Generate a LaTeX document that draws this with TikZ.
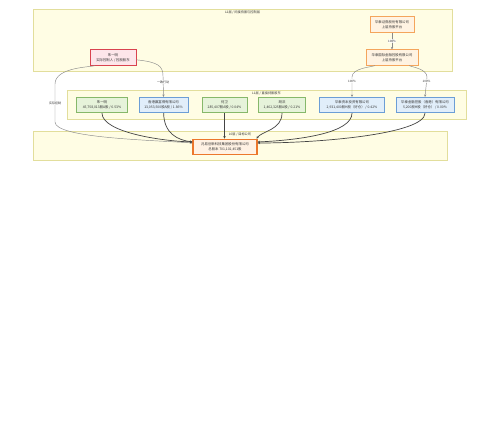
\documentclass[tikz,border=0pt]{standalone}
\usepackage{fontspec}
\setmainfont{Noto Sans CJK SC}
\usetikzlibrary{arrows.meta,positioning}
\definecolor{Ink}{HTML}{333333}
\definecolor{ZoneFill}{HTML}{FFFDE4}
\definecolor{ZoneLine}{HTML}{E2DE9C}
\definecolor{PlatFill}{HTML}{FFF3E2}
\definecolor{PlatLine}{HTML}{F4A55C}
\definecolor{CtrlFill}{HTML}{FDE6EA}
\definecolor{CtrlLine}{HTML}{D9434F}
\definecolor{PersFill}{HTML}{E6F3DA}
\definecolor{PersLine}{HTML}{86B86A}
\definecolor{OrgFill}{HTML}{E1EEFA}
\definecolor{OrgLine}{HTML}{6C9ED6}
\definecolor{TgtFill}{HTML}{FFF2E4}
\definecolor{TgtLine}{HTML}{EC772C}
\definecolor{LinkLight}{HTML}{8A8A8A}
\definecolor{LinkDark}{HTML}{444444}

\begin{document}
\begin{tikzpicture}[x=1pt, y=-1pt,
    every node/.style={font=\fontsize{3.4}{5}\selectfont, text=Ink},
    zone/.style={draw=ZoneLine, fill=ZoneFill, line width=0.6pt},
    zonelbl/.style={font=\fontsize{3.2}{4}\selectfont, inner sep=0.5pt},
    box/.style={rectangle, align=center, minimum height=15.5pt, inner sep=0.8pt, line width=0.7pt},
    platform/.style={box, draw=PlatLine, fill=PlatFill},
    ctrlbox/.style={box, draw=CtrlLine, fill=CtrlFill, line width=0.9pt},
    person/.style={box, draw=PersLine, fill=PersFill},
    org/.style={box, draw=OrgLine, fill=OrgFill},
    target/.style={box, draw=TgtLine, fill=TgtFill, line width=1.1pt},
    link/.style={-{Stealth[length=2.4pt,width=2.2pt]}, draw=LinkLight, line width=0.45pt},
    hold/.style={-{Stealth[length=2.6pt,width=2.4pt]}, draw=LinkDark, line width=0.7pt},
    elbl/.style={fill=white, fill opacity=0.75, text opacity=1, inner sep=0.6pt, font=\fontsize{3}{4}\selectfont}
  ]
    \useasboundingbox (0,0) rectangle (500,438);
    \fill[white] (0,0) rectangle (500,438);

    \draw[zone] (33,9) rectangle (452,71);
    \draw[zone] (67,90) rectangle (466,119);
    \draw[zone] (33,131) rectangle (447,160);
    \node[zonelbl] (l2lbl) at (242.5,12.5) {L2层 / 间接持股与控制层};
    \node[zonelbl] (l1lbl) at (266.5,93.5) {L1层 / 直接持股股东};
    \node[zonelbl] (l0lbl) at (240,134) {L0层 / 目标公司};

    \node[platform, minimum width=44pt] (htsec) at (392,24.5) {华泰证券股份有限公司\\上层持股平台};
    \node[platform, minimum width=52pt] (htintl) at (392,57.5) {华泰国际金融控股有限公司\\上层持股平台};
    \node[ctrlbox, minimum width=46pt] (ctrl) at (113,57.5) {朱一明\\实际控制人 / 控股股东};

    \node[person, minimum width=51pt] (zym) at (102,105) {朱一明\\45,758,013股A股 / 6.53\%};
    \node[org, minimum width=49pt] (hkyf) at (163.5,105) {香港赢富得有限公司\\13,053,500股A股 / 1.86\%};
    \node[person, minimum width=45pt] (hewei) at (224.5,105) {何卫\\285,407股A股 / 0.04\%};
    \node[person, minimum width=47pt] (huhong) at (282,105) {胡洪\\1,462,325股A股 / 0.21\%};
    \node[org, minimum width=65pt] (htcap) at (352,105) {华泰资本投资有限公司\\2,931,400股H股（好仓） / 0.42\%};
    \node[org, minimum width=58pt] (htfin) at (425,105) {华泰金融控股（香港）有限公司\\5,200股H股（好仓） / 0.00\%};

    \node[target, minimum width=64pt] (tgt) at (225,147) {兆易创新科技集团股份有限公司\\总股本 701,102,451股};

    \draw[link] (htsec) -- node[elbl] {100\%} (htintl);
    \draw[link] (htintl) .. controls (372,67) and (352,68) .. (352,77) -- node[elbl, pos=0.2] {100\%} (htcap.north);
    \draw[link] (htintl) .. controls (412,67) and (427,69) .. (427,77) -- node[elbl, pos=0.2] {100\%} (htfin.north);
    \draw[link] (ctrl) .. controls (158,62) and (163,66) .. (163,76) -- node[elbl, pos=0.3] {一致行动} (hkyf.north);
    \draw[link] (ctrl) .. controls (92,67) and (55,67) .. (55,84) -- node[elbl] {实际控制} (55,122)
      .. controls (55,138) and (150,140) .. ([yshift=4pt]tgt.west);

    \draw[hold] (zym) .. controls (102,132) and (160,141) .. ([yshift=5pt]tgt.west);
    \draw[hold] (hkyf) .. controls (164,134) and (178,140) .. ([yshift=5pt]tgt.west);
    \draw[hold] (hewei) -- (hewei.south |- tgt.north);
    \draw[hold] (huhong) .. controls (282,130) and (262,131) .. ([xshift=-1pt]tgt.north east);
    \draw[hold] (htcap) .. controls (352,133) and (300,140) .. ([yshift=5pt]tgt.east);
    \draw[hold] (htfin) .. controls (425,134) and (320,143) .. ([yshift=4pt]tgt.east);
\end{tikzpicture}
\end{document}
